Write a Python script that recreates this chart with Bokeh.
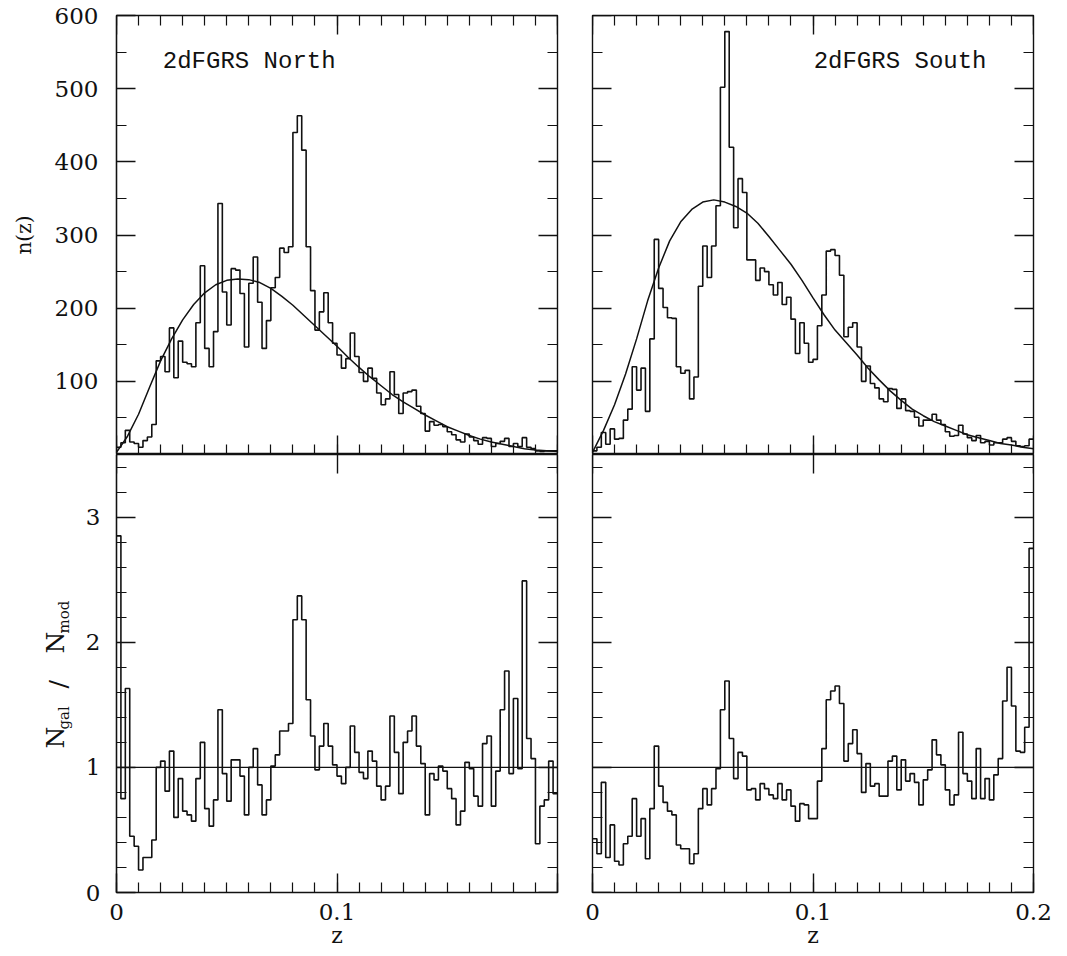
from bokeh.core.properties import value
from bokeh.embed import file_html
from bokeh.layouts import column, row
from bokeh.models import ColumnDataSource, FixedTicker, Grid, Label, LinearAxis, Range1d, Span
from bokeh.plotting import figure
from bokeh.resources import INLINE
import math

# ---------------------------------------------------------------- data
BIN_WIDTH = 0.002      # redshift bin width of the histograms
MODEL_STEP = 0.005     # spacing of the tabulated model n(z)
Z_MAX = 0.2

# galaxy counts per bin, 2dFGRS North strip
north_counts = [
    10, 16, 33, 17, 15, 10, 19, 24, 41, 128,
    134, 113, 173, 105, 155, 126, 124, 120, 180, 258,
    145, 120, 168, 343, 222, 177, 254, 252, 220, 147,
    234, 270, 208, 145, 183, 228, 242, 282, 276, 284,
    440, 463, 416, 284, 224, 170, 195, 221, 180, 152,
    136, 118, 131, 166, 134, 112, 100, 118, 104, 84,
    68, 76, 113, 82, 56, 84, 86, 88, 66, 56,
    32, 45, 40, 41, 38, 31, 27, 20, 17, 28,
    24, 19, 14, 23, 22, 11, 15, 18, 22, 11,
    15, 11, 23, 10, 8, 5, 4, 5, 5, 5,
]

# galaxy counts per bin, 2dFGRS South strip
south_counts = [
    5, 10, 30, 14, 35, 21, 22, 47, 62, 120,
    88, 118, 59, 158, 294, 227, 201, 187, 186, 120,
    111, 115, 76, 106, 230, 285, 242, 285, 340, 502,
    578, 420, 310, 377, 358, 266, 266, 238, 255, 250,
    232, 218, 235, 205, 215, 185, 138, 180, 152, 126,
    130, 176, 218, 278, 280, 272, 245, 161, 174, 180,
    147, 100, 121, 97, 91, 76, 72, 90, 89, 63,
    76, 60, 59, 51, 39, 47, 47, 55, 47, 41,
    31, 25, 26, 40, 28, 23, 19, 26, 16, 18,
    13, 16, 16, 21, 23, 18, 12, 11, 12, 21,
]

# N_gal / N_mod per bin, North
north_ratio = [
    2.85, 0.75, 1.63, 0.45, 0.37, 0.18, 0.28, 0.28, 0.42, 1.00,
    1.05, 0.81, 1.13, 0.60, 0.91, 0.65, 0.62, 0.57, 0.91, 1.20,
    0.67, 0.53, 0.74, 1.46, 0.95, 0.73, 1.06, 1.06, 0.93, 0.62,
    1.00, 1.15, 0.86, 0.62, 0.74, 1.01, 1.10, 1.29, 1.29, 1.35,
    2.18, 2.37, 2.18, 1.54, 1.25, 0.98, 1.17, 1.35, 1.17, 1.02,
    0.93, 0.87, 1.00, 1.33, 1.12, 0.96, 0.91, 1.13, 1.05, 0.85,
    0.74, 0.85, 1.41, 1.12, 0.79, 1.20, 1.29, 1.41, 1.17, 1.03,
    0.62, 0.95, 0.90, 1.01, 0.97, 0.83, 0.75, 0.54, 0.65, 1.04,
    0.99, 0.77, 0.69, 1.19, 1.25, 0.69, 0.97, 1.46, 1.77, 0.95,
    1.55, 0.99, 2.49, 1.23, 1.07, 0.39, 0.69, 0.74, 1.05, 0.79,
]

# N_gal / N_mod per bin, South
south_ratio = [
    0.43, 0.31, 0.88, 0.28, 0.54, 0.25, 0.22, 0.39, 0.45, 0.75,
    0.45, 0.59, 0.27, 0.67, 1.17, 0.85, 0.72, 0.65, 0.62, 0.38,
    0.35, 0.35, 0.23, 0.31, 0.67, 0.83, 0.70, 0.83, 0.99, 1.46,
    1.69, 1.23, 0.91, 1.12, 1.09, 0.82, 0.83, 0.74, 0.87, 0.83,
    0.78, 0.75, 0.87, 0.74, 0.82, 0.69, 0.57, 0.71, 0.70, 0.59,
    0.59, 0.89, 1.15, 1.54, 1.61, 1.65, 1.51, 1.05, 1.19, 1.30,
    1.11, 0.80, 1.03, 0.85, 0.87, 0.77, 0.77, 1.05, 1.09, 0.82,
    1.06, 0.89, 0.95, 0.88, 0.70, 0.90, 0.98, 1.22, 1.10, 1.02,
    0.82, 0.70, 0.78, 1.28, 0.95, 0.89, 0.75, 1.15, 0.75, 0.91,
    0.74, 0.94, 1.07, 1.53, 1.80, 1.49, 1.13, 1.12, 1.32, 2.75,
]

# smooth model n(z), tabulated every MODEL_STEP from z = 0 to 0.2
north_model = [
    3, 25, 55, 92, 128, 158, 184, 205, 221, 232,
    238, 240, 239, 235, 227, 216, 204, 190, 176, 162,
    148, 133, 119, 106, 94, 82, 72, 63, 54, 46,
    38, 32, 26, 21, 17, 14, 11, 8, 6, 5, 4,
]
south_model = [
    3, 33, 68, 110, 158, 210, 255, 292, 318, 335,
    345, 348, 345, 339, 330, 316, 298, 279, 260, 238,
    214, 191, 170, 153, 136, 118, 102, 87, 74, 62,
    53, 45, 39, 33, 27, 23, 19, 15, 13, 10, 8,
]

z_major = [0.0, 0.1, 0.2]
z_labels = {0: "0", 0.1: "0.1", 0.2: "0.2"}
counts_major = [100, 200, 300, 400, 500, 600]
counts_minor = [50, 150, 250, 350, 450, 550]
ratio_major = [0, 1, 2, 3]
ratio_tick_labels = ["0", "1", "2", "3"]

COUNT_MAX = 600
RATIO_MAX = 3.5

# ---------------------------------------------------------------- style
NUM_FONT = "DejaVu Serif"
TITLE_FONT = "Liberation Mono"
INK = "#111111"
FRAME_W = 441
TOP_H = 439
BOT_H = 438
BOTTOM_PAD = 64
STRIP_W = 75          # column that carries the rotated ratio-axis title


def bin_edges(n):
    return [round(i * BIN_WIDTH, 6) for i in range(n + 1)]


def model_grid(n):
    return [round(i * MODEL_STEP, 6) for i in range(n)]


z_minor = [round(0.01 * k, 4) for k in range(21)]
ratio_minor = [round(0.2 * k, 4) for k in range(18)]


def style_axis(axis, minor=True):
    axis.major_tick_in = 19
    axis.major_tick_out = 0
    axis.minor_tick_in = 10 if minor else 0
    axis.minor_tick_out = 0
    axis.axis_line_color = INK
    axis.axis_line_width = 1.2
    axis.major_tick_line_color = INK
    axis.major_tick_line_width = 1.4
    axis.minor_tick_line_color = INK if minor else None
    axis.minor_tick_line_width = 1.2
    axis.major_label_text_font = NUM_FONT
    axis.major_label_text_font_size = "23px"
    axis.major_label_text_color = INK
    axis.axis_label_text_font = NUM_FONT
    axis.axis_label_text_font_style = "normal"
    axis.axis_label_text_color = INK


def blank_axis(p, side, major, minor_ticks, fixed, minor=True):
    axis = LinearAxis(ticker=FixedTicker(ticks=major, minor_ticks=minor_ticks if minor else []))
    style_axis(axis, minor)
    axis.axis_line_color = None
    axis.fixed_location = fixed
    axis.major_label_overrides = {t: "" for t in major}
    p.add_layout(axis, side)
    return axis


def make_fig(y_max, frame_h, left, right, top, bottom):
    p = figure(
        frame_width=FRAME_W, frame_height=frame_h,
        x_range=Range1d(0, Z_MAX), y_range=Range1d(0, y_max),
        x_axis_location=None, y_axis_location=None,
        toolbar_location=None, output_backend="svg", title=None,
        min_border_left=left, min_border_right=right,
        min_border_top=top, min_border_bottom=bottom,
    )
    p.center = [r for r in p.center if not isinstance(r, Grid)]
    p.outline_line_color = INK
    p.outline_line_width = 1.4
    p.background_fill_color = "white"
    p.border_fill_color = "white"
    return p


def draw_hist(p, values):
    edges = bin_edges(len(values))
    p.step(edges, list(values) + [values[-1]], mode="after", line_color=INK, line_width=1.6)


def counts_panel(values, model, left_col, title, title_x):
    if left_col:
        p = make_fig(COUNT_MAX, TOP_H, 116, 17, 15, 0)
    else:
        p = make_fig(COUNT_MAX, TOP_H, 18, 30, 15, 0)
    draw_hist(p, values)
    p.line(model_grid(len(model)), model, line_color=INK, line_width=1.5)

    blank_axis(p, "below", z_major, z_minor, 0)
    blank_axis(p, "above", z_major, z_minor, COUNT_MAX)
    blank_axis(p, "right", counts_major, counts_minor, Z_MAX)
    if left_col:
        ax = LinearAxis(ticker=FixedTicker(ticks=counts_major, minor_ticks=counts_minor))
        style_axis(ax)
        ax.major_label_standoff = 18
        ax.axis_label = "n(z)"
        ax.axis_label_text_font_size = "20px"
        ax.axis_label_standoff = 16
        p.add_layout(ax, "left")
    else:
        blank_axis(p, "left", counts_major, counts_minor, 0)

    p.add_layout(Label(x=title_x, y=537, text=title, text_font=TITLE_FONT,
                       text_font_size="24px", text_color=INK, text_baseline="middle"))
    return p


def ratio_panel(values, left_col):
    if left_col:
        p = make_fig(RATIO_MAX, BOT_H, 116 - STRIP_W, 17, 0, BOTTOM_PAD)
    else:
        p = make_fig(RATIO_MAX, BOT_H, 18, 30, 0, BOTTOM_PAD)
    p.add_layout(Span(location=1, dimension="width", line_color=INK, line_width=1.2))
    draw_hist(p, values)

    xb = LinearAxis(ticker=FixedTicker(ticks=z_major, minor_ticks=z_minor))
    style_axis(xb)
    labels = dict(z_labels)
    if left_col:
        labels[0.2] = ""
    xb.major_label_overrides = labels
    xb.major_label_standoff = 11
    xb.axis_label = "z"
    xb.axis_label_text_font_size = "22px"
    xb.axis_label_standoff = 0
    p.add_layout(xb, "below")

    blank_axis(p, "above", z_major, z_minor, RATIO_MAX, minor=False)
    blank_axis(p, "right", ratio_major, ratio_minor, Z_MAX)
    if left_col:
        ay = LinearAxis(ticker=FixedTicker(ticks=ratio_major, minor_ticks=ratio_minor))
        style_axis(ay)
        ay.major_label_standoff = 16
        ay.major_label_overrides = dict(zip(ratio_major, ratio_tick_labels))
        p.add_layout(ay, "left")
    else:
        blank_axis(p, "left", ratio_major, ratio_minor, 0)
    return p


def title_strip():
    # narrow canvas left of the ratio panel; its coordinates are pixels
    height = BOT_H + BOTTOM_PAD
    s = figure(
        frame_width=STRIP_W, frame_height=height,
        x_range=Range1d(0, STRIP_W), y_range=Range1d(0, height),
        x_axis_location=None, y_axis_location=None,
        toolbar_location=None, output_backend="svg", title=None,
        min_border_left=0, min_border_right=0,
        min_border_top=0, min_border_bottom=0,
    )
    s.center = [r for r in s.center if not isinstance(r, Grid)]
    s.outline_line_color = None
    s.background_fill_color = "white"
    s.border_fill_color = "white"

    # rotated "N_gal / N_mod": full-size letters and subscripts as two text sets
    main = ColumnDataSource(dict(x=[55, 58, 55], y=[208, 268, 303], t=["N", "/", "N"]))
    subs = ColumnDataSource(dict(x=[63, 63], y=[227, 323], t=["gal", "mod"]))
    s.text(x="x", y="y", text="t", source=main, angle=math.pi / 2,
           text_font=value(NUM_FONT), text_font_size=value("25px"),
           text_color=INK, text_align="left", text_baseline="alphabetic")
    s.text(x="x", y="y", text="t", source=subs, angle=math.pi / 2,
           text_font=value(NUM_FONT), text_font_size=value("15px"),
           text_color=INK, text_align="left", text_baseline="alphabetic")
    return s


tl = counts_panel(north_counts, north_model, True, "2dFGRS North", 0.021)
tr = counts_panel(south_counts, south_model, False, "2dFGRS South", 0.1003)
bl = ratio_panel(north_ratio, True)
br = ratio_panel(south_ratio, False)
strip = title_strip()

layout = column(row(tl, tr), row(strip, bl, br))

with open("out.html", "w") as fh:
    fh.write(file_html(layout, INLINE))
